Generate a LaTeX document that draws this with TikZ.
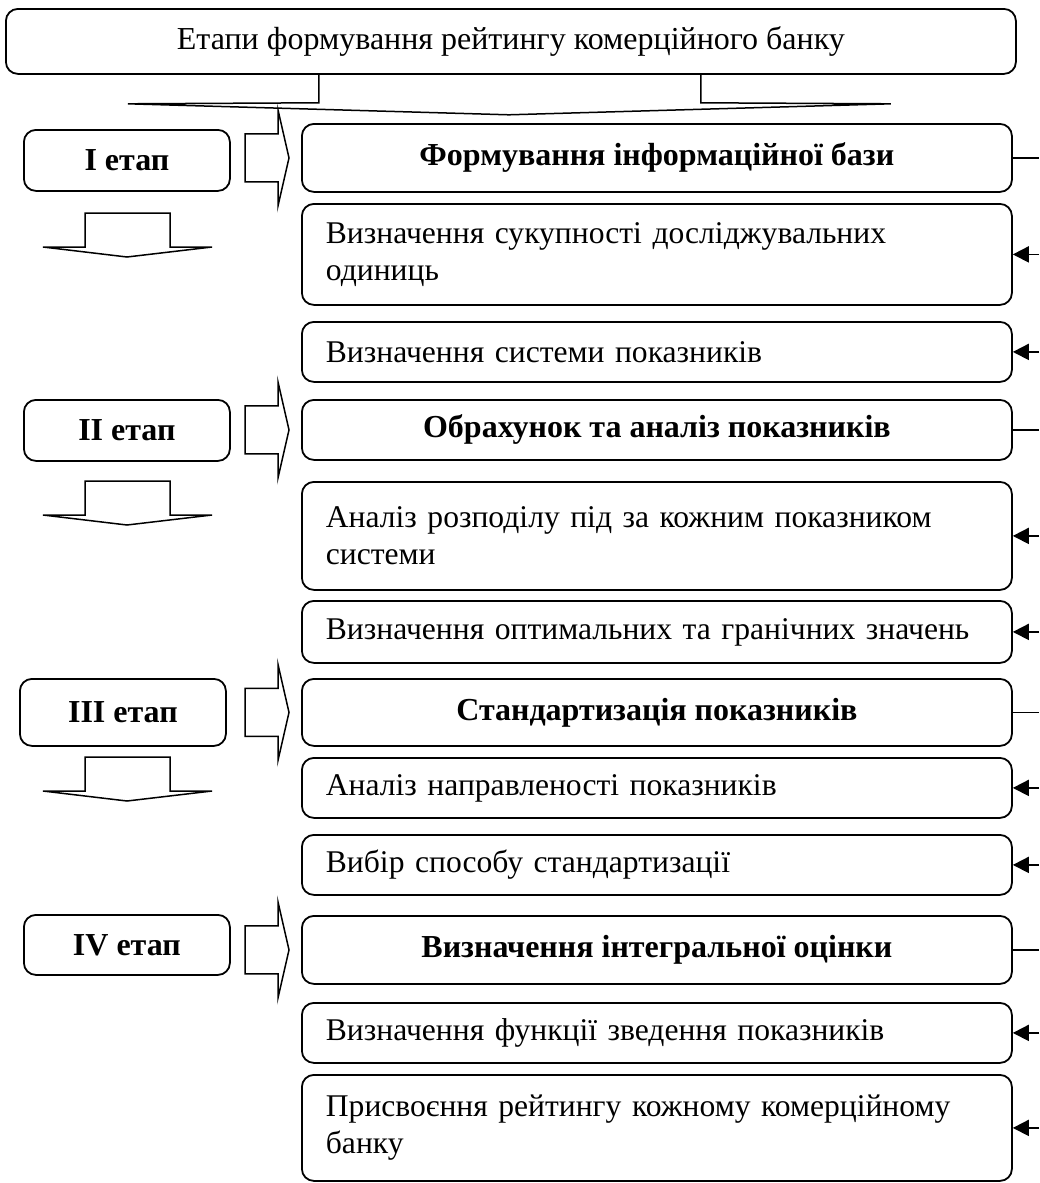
\documentclass[tikz,border=0pt]{standalone}
\usepackage{fontspec}
\setmainfont{Liberation Serif}
\usetikzlibrary{arrows.meta}
\begin{document}
\begin{tikzpicture}[x=0.5pt, y=-0.5pt,
    box/.style={draw, line width=0.9pt, rounded corners=6pt, inner sep=0pt, anchor=north west,
        font=\fontsize{15.8}{18.5}\selectfont},
    titlebox/.style={box, minimum width=505pt, font=\fontsize{16}{18.5}\selectfont},
    etapbox/.style={box, minimum width=103pt, font=\fontsize{16}{18.5}\selectfont\bfseries},
    mainbox/.style={box, minimum width=355pt, font=\fontsize{16}{18.5}\selectfont\bfseries},
    subbox/.style={box, text width=331pt, align=left, inner xsep=12pt},
    blockarrow/.style={draw, line width=0.75pt, line join=miter},
    link/.style={line width=0.75pt},
    pointer/.style={line width=0.9pt, -{Triangle[length=8pt, width=8pt]}}]
\useasboundingbox (0,0) rectangle (1039,1183);
\coordinate (edge) at (1039,0);
% title
\node[titlebox, minimum height=32.5pt] (title) at (5,8) {Етапи формування рейтингу комерційного банку};
% stages
\node[etapbox, minimum height=30.5pt] (e1) at (23,129) {I етап};
\node[etapbox, minimum height=30.5pt] (e2) at (23,399) {II етап};
\node[etapbox, minimum height=33.5pt] (e3) at (19,678) {III етап};
\node[etapbox, minimum height=30pt] (e4) at (23,914) {IV етап};
% main steps
\node[mainbox, minimum height=34pt] (m1) at (301,123) {Формування інформаційної бази};
\node[mainbox, minimum height=30pt] (m2) at (301,399) {Обрахунок та аналіз показників};
\node[mainbox, minimum height=33.5pt] (m3) at (301,678) {Стандартизація показників};
\node[mainbox, minimum height=34pt] (m4) at (301,915) {Визначення інтегральної оцінки};
% sub steps
\node[subbox, minimum height=50.5pt] (s1) at (301,203) {Визначення сукупності досліджувальних\\одиниць};
\node[subbox, minimum height=30pt] (s2) at (301,321) {Визначення системи показників};
\node[subbox, minimum height=54pt] (s3) at (301,481) {Аналіз розподілу під за кожним показником\\системи};
\node[subbox, minimum height=31pt] (s4) at (301,600) {Визначення оптимальних та гранічних значень};
\node[subbox, minimum height=30pt] (s5) at (301,757) {Аналіз направленості показників};
\node[subbox, minimum height=30pt] (s6) at (301,834) {Вибір способу стандартизації};
\node[subbox, minimum height=30pt] (s7) at (301,1002) {Визначення функції зведення показників};
\node[subbox, minimum height=53pt] (s8) at (301,1074) {Присвоєння рейтингу кожному комерційному\\банку};
% bracket under the title
\draw[blockarrow] ([xshift=-96pt]title.south) -- ([shift={(-96pt,-14pt)}]title.south)
    -- ([shift={(-191.5pt,-14.5pt)}]title.south) -- ([shift={(-1pt,-20pt)}]title.south)
    -- ([shift={(190pt,-14.5pt)}]title.south) -- ([shift={(95pt,-14pt)}]title.south)
    -- ([xshift=95pt]title.south);
% block arrows to the right
\foreach \m in {m1,m2,m3,m4}
    \draw[blockarrow] ([shift={(-28pt,12pt)}]\m.west) -- ([shift={(-11.5pt,12pt)}]\m.west)
        -- ([shift={(-11.5pt,24pt)}]\m.west) -- ([shift={(-6pt,0pt)}]\m.west)
        -- ([shift={(-11.5pt,-24pt)}]\m.west) -- ([shift={(-11.5pt,-12pt)}]\m.west)
        -- ([shift={(-28pt,-12pt)}]\m.west) -- cycle;
% block arrows down
\foreach \y in {213,481,757}
    \draw[blockarrow] (85,\y) -- (170,\y) -- (170,\y+34) -- (212,\y+34)
        -- (127,\y+44) -- (43,\y+34) -- (85,\y+34) -- cycle;
% connectors on the right
\foreach \m in {m1,m2,m3,m4}
    \draw[link] (\m.east) -- (\m.east -| edge);
\foreach \s in {s1,s2,s3,s4,s5,s6,s7,s8}
    \draw[pointer] (\s.east -| edge) -- (\s.east);
\end{tikzpicture}
\end{document}
